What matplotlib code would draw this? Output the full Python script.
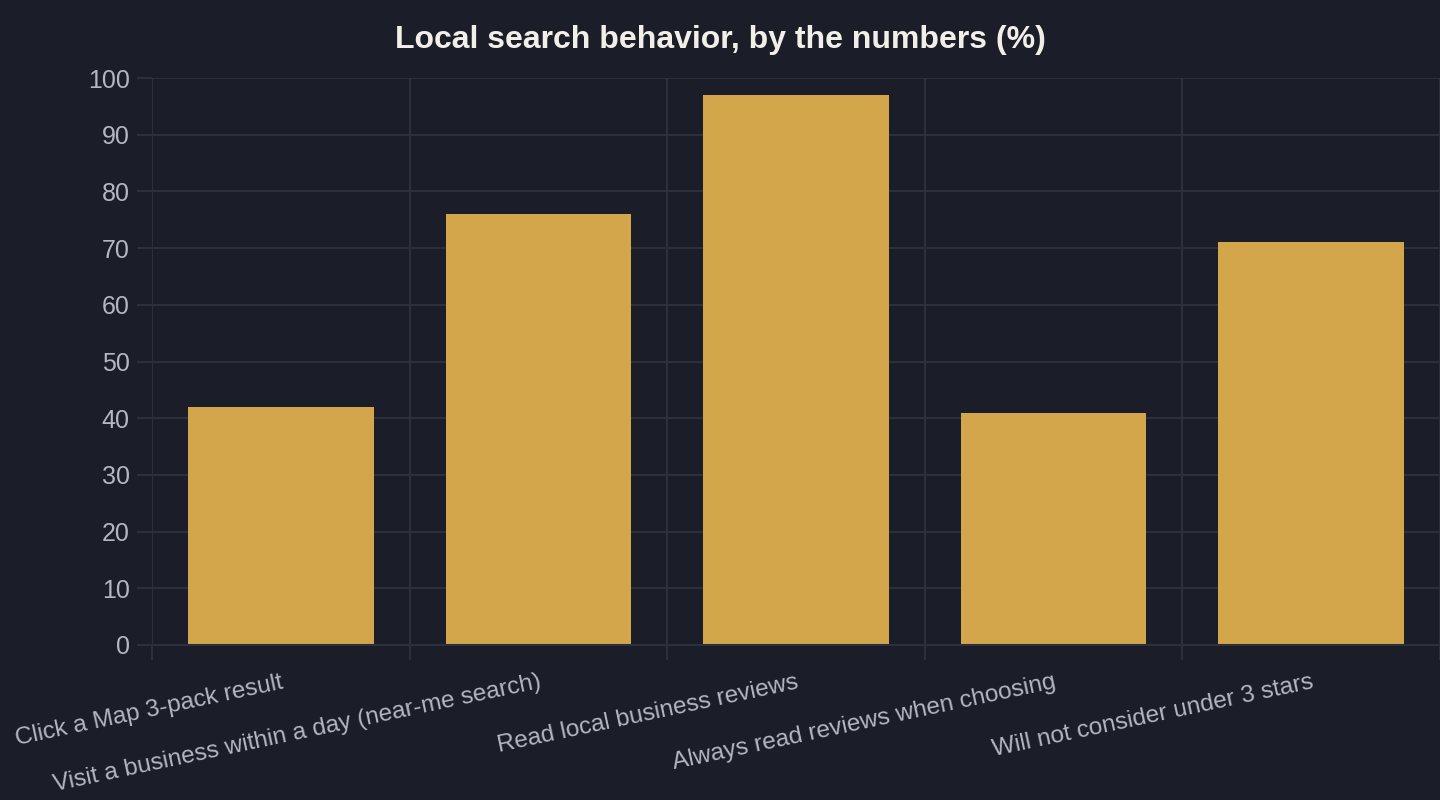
import matplotlib.pyplot as plt
import numpy as np

# data
categories = [
    "Click a Map 3-pack result",
    "Visit a business within a day (near-me search)",
    "Read local business reviews",
    "Always read reviews when choosing",
    "Will not consider under 3 stars",
]
values = [42, 76, 97, 41, 71]
y_ticks = list(range(0, 101, 10))

BG = "#1b1d29"
GRID = "#2c2f3c"
BAR = "#d4a64c"
TEXT = "#b4b6c0"
TITLE = "#f2efe8"

plt.rcParams['font.family'] = ['Liberation Sans', 'DejaVu Sans']

fig = plt.figure(figsize=(14.4, 8), dpi=100, facecolor=BG)
ax = fig.add_axes([152 / 1440, 1 - 645 / 800, 1 - 152 / 1440, (645 - 78) / 800])
ax.set_facecolor(BG)

x = np.arange(len(categories))
ax.bar(x, values, width=0.72, color=BAR, zorder=3)

ax.set_xlim(-0.5, len(categories) - 0.5)
ax.set_ylim(0, 100)
ax.set_yticks(y_ticks)
ax.set_yticklabels([str(t) for t in y_ticks])

# category labels at centers, split lines at boundaries
ax.set_xticks(x)
ax.set_xticklabels(categories, rotation=12, ha='right', va='top',
                   rotation_mode='anchor')
ax.set_xticks(np.arange(-0.5, len(categories) + 0.5, 1), minor=True)
ax.tick_params(axis='x', which='major', length=0, pad=19, colors=TEXT,
               labelsize=17.6)
ax.tick_params(axis='x', which='minor', length=11, width=1.5, color=GRID)
ax.tick_params(axis='y', length=11, width=1.5, color=GRID, colors=TEXT,
               labelsize=18, pad=5)
for lab in ax.get_yticklabels():
    lab.set_color(TEXT)

ax.grid(True, axis='y', color=GRID, linewidth=1.5, zorder=0)
ax.grid(True, axis='x', which='minor', color=GRID, linewidth=1.5, zorder=0)

for s in ['top', 'right', 'left']:
    ax.spines[s].set_visible(False)
ax.spines['bottom'].set_color(GRID)
ax.spines['bottom'].set_linewidth(1.5)
ax.spines['bottom'].set_zorder(4)

fig.text(0.5, 1 - 40 / 800, "Local search behavior, by the numbers (%)",
         ha='center', va='center', color=TITLE, fontsize=23,
         fontweight='bold')

fig.savefig("out.png", dpi=100, facecolor=BG)
